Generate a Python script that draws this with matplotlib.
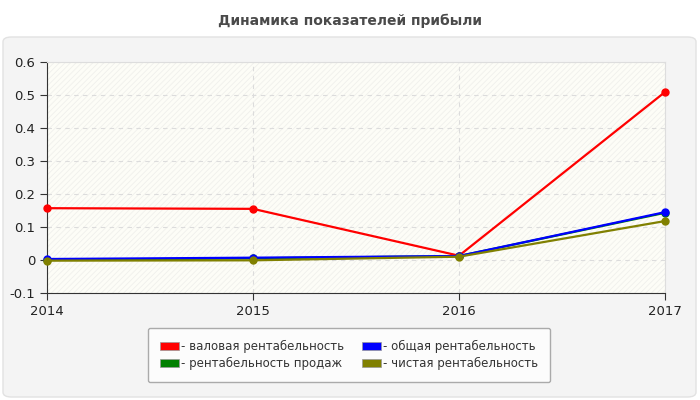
import matplotlib
matplotlib.use("Agg")
import matplotlib.pyplot as plt
import matplotlib.patches as patches
from matplotlib.patches import Patch

years = [2014, 2015, 2016, 2017]
gross = [0.157, 0.155, 0.013, 0.509]      # валовая рентабельность
total = [0.003, 0.007, 0.012, 0.145]      # общая рентабельность
sales = [0.0, 0.005, 0.012, 0.143]        # рентабельность продаж
net = [-0.002, -0.001, 0.010, 0.118]      # чистая рентабельность
yticks = [-0.1, 0, 0.1, 0.2, 0.3, 0.4, 0.5, 0.6]
ytick_labels = ["-0.1", "0", "0.1", "0.2", "0.3", "0.4", "0.5", "0.6"]

series = [
    ("- валовая рентабельность", gross, "#ff0000"),
    ("- рентабельность продаж", sales, "#008000"),
    ("- общая рентабельность", total, "#0000ff"),
    ("- чистая рентабельность", net, "#808000"),
]

plt.rcParams['font.family'] = ['DejaVu Sans']
plt.rcParams['hatch.linewidth'] = 0.6

fig = plt.figure(figsize=(7, 4), dpi=100)
fig.patch.set_facecolor('white')

# grey panel behind the chart
panel = patches.FancyBboxPatch((3 / 700, 3 / 400), 693 / 700, 360 / 400,
                               boxstyle="round,pad=0,rounding_size=0.012",
                               transform=fig.transFigure, facecolor='#f4f4f4',
                               edgecolor='#e2e2e2', linewidth=1, zorder=-5)
fig.patches.append(panel)

fig.text(0.5, 0.948, "Динамика показателей прибыли", ha='center', va='center',
         fontsize=10, fontweight='bold', color='#4a4a4a')

ax = fig.add_axes([47 / 700, 107 / 400, 618 / 700, 231 / 400])
ax.set_facecolor('#fdfdf7')
ax.add_patch(patches.Rectangle((0, 0), 1, 1, transform=ax.transAxes,
                               facecolor='none', edgecolor='#f0f0ec', linewidth=0,
                               hatch='//////', zorder=0))

ax.set_xlim(2014, 2017)
ax.set_ylim(-0.1, 0.6)
ax.set_xticks(years)
ax.set_xticklabels([str(y) for y in years])
ax.set_yticks(yticks)
ax.set_yticklabels(ytick_labels)
ax.grid(True, linestyle=(0, (4, 4)), color='#dcdcdc', linewidth=0.8)
ax.set_axisbelow(True)

for s in ['top', 'right']:
    ax.spines[s].set_color('#dddddd')
for s in ['left', 'bottom']:
    ax.spines[s].set_color('#333333')
ax.tick_params(direction='out', length=5, colors='#333333', labelsize=9.5,
               labelcolor='#222222')

for name, vals, col in series:
    ax.plot(years, vals, color=col, linewidth=1.6, marker='o', markersize=5,
            zorder=3, clip_on=False)

handles = [Patch(facecolor=c, edgecolor='#999999', linewidth=0.5, label=n)
           for n, v, c in series]
leg = fig.legend(handles=handles, loc='center', bbox_to_anchor=(0.4986, 0.1125),
                 ncol=2, fontsize=8.5, frameon=True, fancybox=True,
                 handlelength=1.6, handleheight=0.7, handletextpad=0.2,
                 columnspacing=1.5, labelspacing=0.35, borderpad=1.0,
                 labelcolor='#333333')
leg.get_frame().set_facecolor('#fcfcfc')
leg.get_frame().set_edgecolor('#aaaaaa')
leg.get_frame().set_alpha(1)

fig.savefig("out.png", dpi=100)
